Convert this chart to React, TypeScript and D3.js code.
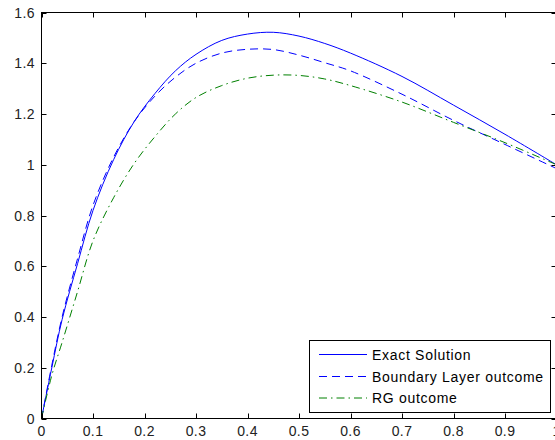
import React from "react";
import * as d3 from "d3";

const xs = [0, 0.02, 0.04, 0.07, 0.1, 0.14, 0.18, 0.22, 0.26, 0.3, 0.35, 0.4, 0.45, 0.5, 0.55, 0.6, 0.7, 0.8, 0.9, 1.0];
const exact = [0, 0.2, 0.39, 0.61, 0.82, 1.02, 1.17, 1.28, 1.37, 1.435, 1.49, 1.515, 1.522, 1.507, 1.478, 1.44, 1.348, 1.235, 1.12, 1.0];
const boundary = [0, 0.21, 0.4, 0.63, 0.84, 1.03, 1.17, 1.27, 1.345, 1.4, 1.44, 1.455, 1.454, 1.432, 1.402, 1.37, 1.278, 1.175, 1.08, 0.985];
const rg = [0, 0.17, 0.3, 0.5, 0.7, 0.87, 1.005, 1.11, 1.2, 1.265, 1.312, 1.341, 1.353, 1.352, 1.338, 1.312, 1.247, 1.167, 1.087, 1.0];

const xTicks = [0, 0.1, 0.2, 0.3, 0.4, 0.5, 0.6, 0.7, 0.8, 0.9, 1];
const yTicks = [0, 0.2, 0.4, 0.6, 0.8, 1, 1.2, 1.4, 1.6];
const seriesNames = ["Exact Solution", "Boundary Layer outcome", "RG outcome"];

const W = 555, H = 440;
const left = 41.5, right = 556.5, top = 12.5, bottom = 418.5;
const font = "'Liberation Sans', Arial, sans-serif";

export default function App() {
  const x = d3.scaleLinear().domain([0, 1]).range([left, right]);
  const y = d3.scaleLinear().domain([0, 1.6]).range([bottom, top]);
  const line = (vals: number[]) =>
    d3.line<number>().x((_, i) => x(xs[i])).y((d) => y(d)).curve(d3.curveCatmullRom.alpha(0.5))(vals) || "";

  const styles = [
    { color: "#0000ff", dash: "none", data: exact },
    { color: "#0000ff", dash: "8,5", data: boundary },
    { color: "#008000", dash: "8,4,1.5,4", data: rg },
  ];
  const tl = 5;
  const legX = 309.5, legY = 340.5, legW = 241, legH = 72;
  const rowY = [354.5, 376.5, 398];

  return (
    <svg width={W} height={H} style={{ position: "absolute", left: 0, top: 0, background: "#fff" }}>
      <rect x={0} y={0} width={W} height={H} fill="#fff" />
      {styles.map((s, i) => (
        <path key={i} d={line(s.data)} fill="none" stroke={s.color} strokeWidth={1} strokeDasharray={s.dash} />
      ))}
      <rect x={left} y={top} width={right - left} height={bottom - top} fill="none" stroke="#000" strokeWidth={1} />
      {xTicks.map((t) => (
        <g key={"x" + t}>
          <line x1={Math.round(x(t)) + 0.5} x2={Math.round(x(t)) + 0.5} y1={bottom} y2={bottom - tl} stroke="#000" />
          <line x1={Math.round(x(t)) + 0.5} x2={Math.round(x(t)) + 0.5} y1={top} y2={top + tl} stroke="#000" />
          <text x={x(t)} y={436} textAnchor="middle" fontFamily={font} fontSize={14} letterSpacing={0.4} fill="#222">{String(t)}</text>
        </g>
      ))}
      {yTicks.map((t) => (
        <g key={"y" + t}>
          <line x1={left} x2={left + tl} y1={Math.round(y(t)) + 0.5} y2={Math.round(y(t)) + 0.5} stroke="#000" />
          <line x1={right} x2={right - tl} y1={Math.round(y(t)) + 0.5} y2={Math.round(y(t)) + 0.5} stroke="#000" />
          <text x={35} y={y(t) + 5} textAnchor="end" fontFamily={font} fontSize={14} letterSpacing={0.4} fill="#222">{String(t)}</text>
        </g>
      ))}
      <rect x={legX} y={legY} width={legW} height={legH} fill="#fff" stroke="#000" strokeWidth={1} />
      {styles.map((s, i) => (
        <g key={"l" + i}>
          <line x1={319} x2={367} y1={rowY[i]} y2={rowY[i]} stroke={s.color} strokeDasharray={s.dash} />
          <text x={372} y={rowY[i] + 5} fontFamily={font} fontSize={14} letterSpacing={0.7} fill="#000">{seriesNames[i]}</text>
        </g>
      ))}
    </svg>
  );
}
